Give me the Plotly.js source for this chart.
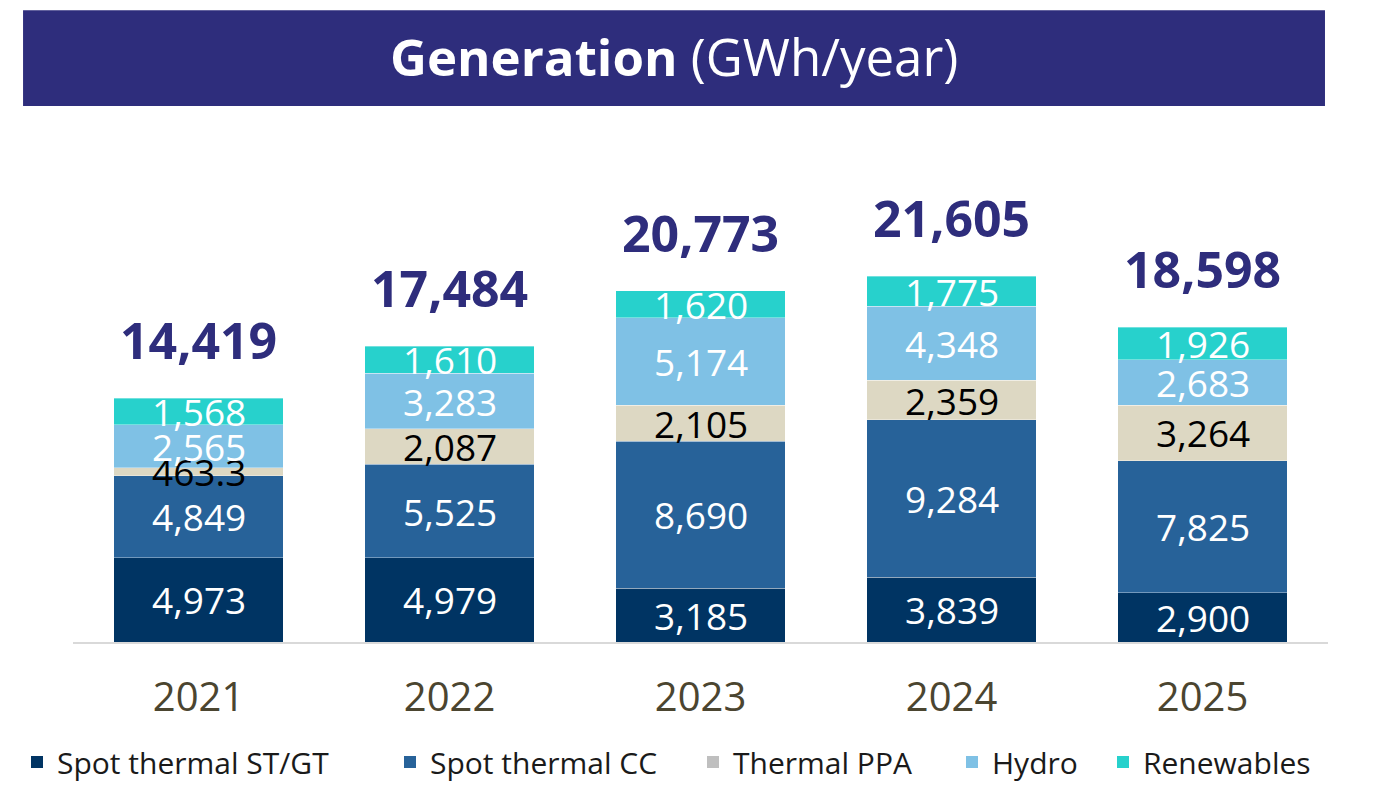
<!DOCTYPE html>
<html>
<head>
<meta charset="utf-8">
<script src="https://cdn.plot.ly/plotly-3.0.1.min.js"></script>
<style>html,body{margin:0;padding:0;background:#fff;}#chart{width:1376px;height:785px;}</style>
</head>
<body>
<div id="chart"></div>
<script>
const years = ["2021", "2022", "2023", "2024", "2025"];
const spotThermalSTGT = [4973, 4979, 3185, 3839, 2900];
const spotThermalCC = [4849, 5525, 8690, 9284, 7825];
const thermalPPA = [463.3, 2087, 2105, 2359, 3264];
const hydro = [2565, 3283, 5174, 4348, 2683];
const renewables = [1568, 1610, 1620, 1775, 1926];
const totals = [14419, 17484, 20773, 21605, 18598];

const seriesNames = ["Spot thermal ST/GT", "Spot thermal CC", "Thermal PPA", "Hydro", "Renewables"];
const seriesValues = [spotThermalSTGT, spotThermalCC, thermalPPA, hydro, renewables];
const barColors = ["#003463", "#276299", "#DDD8C3", "#7FC1E5", "#27D1CC"];
const legendColors = ["#003463", "#276299", "#BFBFBF", "#7FC1E5", "#27D1CC"];
const labelColors = ["#ffffff", "#ffffff", "#000000", "#ffffff", "#ffffff"];

const FONT = "'Open Sans', 'Noto Sans', sans-serif";

function fmt(v) {
  if (v < 1000 && v % 1 !== 0) return v.toFixed(1);
  return Math.round(v).toLocaleString('en-US');
}

const traces = [];
seriesNames.forEach((name, i) => {
  traces.push({
    type: 'bar',
    name: name,
    x: years,
    y: seriesValues[i],
    marker: {color: barColors[i], line: {color: 'rgba(255,255,255,0.35)', width: 1}},
    showlegend: false,
    hoverinfo: 'x+y+name'
  });
});
// legend-only entries (legend swatch colour differs from bar colour for Thermal PPA);
// one legend per entry so the spacing matches the reference
const legendIds = ['legend', 'legend2', 'legend3', 'legend4', 'legend5'];
seriesNames.forEach((name, i) => {
  traces.push({
    type: 'bar',
    name: name,
    x: [years[0]],
    y: [null],
    marker: {color: legendColors[i]},
    showlegend: true,
    legend: legendIds[i],
    hoverinfo: 'skip'
  });
});

const annotations = [];
years.forEach((yr, j) => {
  let base = 0;
  seriesValues.forEach((vals, i) => {
    const v = vals[j];
    annotations.push({
      x: j, y: base + v / 2, xref: 'x', yref: 'y',
      text: fmt(v), showarrow: false,
      font: {family: FONT, size: 37, color: labelColors[i]},
      xanchor: 'center', yanchor: 'middle'
    });
    base += v;
  });
  annotations.push({
    x: j, y: totals[j], xref: 'x', yref: 'y',
    text: '<b>' + fmt(totals[j]) + '</b>', showarrow: false,
    font: {family: FONT, size: 50, color: '#2E2D7C'},
    xanchor: 'center', yanchor: 'bottom', yshift: 22
  });
});

annotations.push({
  xref: 'paper', yref: 'paper', x: 0.4789, y: 1.1445,
  text: '<b>Generation</b> (GWh/year)', showarrow: false,
  font: {family: FONT, size: 51, color: '#ffffff'},
  xanchor: 'center', yanchor: 'middle'
});

const legendSymbolLeft = [32, 405, 708, 967, 1118];
const layout = {
  width: 1376, height: 785,
  margin: {l: 73, r: 48, t: 130, b: 143},
  paper_bgcolor: '#ffffff', plot_bgcolor: '#ffffff',
  barmode: 'stack',
  bargap: 0.323,
  font: {family: FONT},
  shapes: [{
    type: 'rect', xref: 'paper', yref: 'paper',
    x0: -0.0398, x1: 0.9976, y0: 1.047, y1: 1.234,
    fillcolor: '#2E2D7C', line: {width: 0}, layer: 'below'
  }],
  xaxis: {
    type: 'category',
    categoryorder: 'array', categoryarray: years,
    range: [-0.5, 4.5], autorange: false,
    showline: true, linecolor: '#D9D9D9', linewidth: 2,
    showgrid: false, zeroline: false, ticks: '',
    ticklabelstandoff: 19,
    tickfont: {family: FONT, size: 40, color: '#4B4530'}
  },
  yaxis: {
    range: [0, 30260], autorange: false, visible: false, showgrid: false, zeroline: false
  },
  annotations: annotations,
  showlegend: true
};
legendIds.forEach((id, i) => {
  layout[id] = {
    orientation: 'h', xref: 'container', yref: 'container',
    x: (legendSymbolLeft[i] - 15) / 1376, y: (785 - 762) / 785,
    xanchor: 'left', yanchor: 'middle',
    bgcolor: 'rgba(0,0,0,0)',
    font: {family: FONT, size: 30, color: '#1a1a1a'},
    itemclick: false, itemdoubleclick: false
  };
});

Plotly.newPlot('chart', traces, layout, {displayModeBar: false, staticPlot: true});
</script>
</body>
</html>
